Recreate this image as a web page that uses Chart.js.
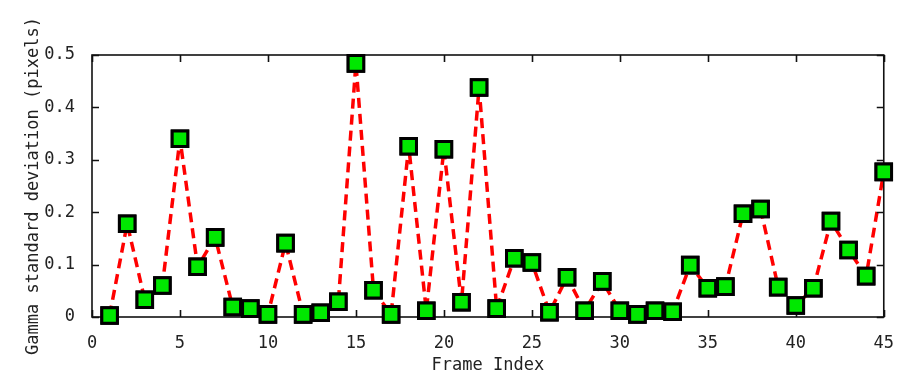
<!DOCTYPE html>
<html lang="en">
<head>
    <meta charset="UTF-8">
    <title>Gamma standard deviation per frame</title>
    <script src="https://cdn.jsdelivr.net/npm/chart.js"></script>
    <style>
        html, body {
            margin: 0;
            padding: 0;
            background: #fff;
        }
        #wrap {
            width: 902px;
            height: 379px;
        }
    </style>
</head>
<body>
    <div id="wrap">
        <canvas id="gammaChart"></canvas>
    </div>

    <script>
        // frame indices and measured gamma std dev (pixels)
        const frames = [];
        for (let i = 1; i <= 45; i++) frames.push(i);

        const gammaStd = [
            0.003, 0.178, 0.033, 0.060, 0.340, 0.096, 0.152, 0.019, 0.016, 0.005,
            0.141, 0.005, 0.008, 0.029, 0.484, 0.051, 0.005, 0.326, 0.012, 0.320,
            0.028, 0.438, 0.016, 0.112, 0.104, 0.009, 0.076, 0.012, 0.068, 0.012,
            0.005, 0.012, 0.010, 0.099, 0.055, 0.058, 0.197, 0.206, 0.057, 0.022,
            0.055, 0.183, 0.128, 0.078, 0.277
        ];

        const xTicks = [0, 5, 10, 15, 20, 25, 30, 35, 40, 45];
        const yTicks = [0, 0.1, 0.2, 0.3, 0.4, 0.5];

        const monoFont = "'DejaVu Sans Mono', 'Liberation Mono', monospace";

        // box around the plot with gnuplot-style inward ticks
        const frameBox = {
            id: 'frameBox',
            afterDatasetsDraw(chart) {
                const { ctx, chartArea: a, scales } = chart;
                const len = 7;
                ctx.save();
                ctx.strokeStyle = '#111';
                ctx.lineWidth = 1.6;
                ctx.beginPath();
                xTicks.forEach(v => {
                    const px = Math.round(scales.x.getPixelForValue(v)) + 0.5;
                    ctx.moveTo(px, a.bottom);
                    ctx.lineTo(px, a.bottom - len);
                    ctx.moveTo(px, a.top);
                    ctx.lineTo(px, a.top + len);
                });
                yTicks.forEach(v => {
                    const py = Math.round(scales.y.getPixelForValue(v)) + 0.5;
                    ctx.moveTo(a.left, py);
                    ctx.lineTo(a.left + len, py);
                    ctx.moveTo(a.right, py);
                    ctx.lineTo(a.right - len, py);
                });
                ctx.stroke();
                ctx.strokeRect(a.left, a.top, a.right - a.left, a.bottom - a.top);
                ctx.restore();
            },
            // redraw markers above the box so edge points sit on top
            afterDraw(chart) {
                const meta = chart.getDatasetMeta(0);
                meta.data.forEach(pt => pt.draw(chart.ctx));
            }
        };

        const ctx = document.getElementById('gammaChart').getContext('2d');
        new Chart(ctx, {
            type: 'line',
            data: {
                datasets: [{
                    data: frames.map((f, i) => ({ x: f, y: gammaStd[i] })),
                    borderColor: '#ff0000',
                    borderWidth: 3.5,
                    borderDash: [10, 6],
                    borderJoinStyle: 'round',
                    tension: 0,
                    fill: false,
                    clip: false,
                    pointStyle: 'rect',
                    pointRadius: 11,
                    pointBackgroundColor: '#00e800',
                    pointBorderColor: '#000',
                    pointBorderWidth: 3
                }]
            },
            options: {
                responsive: true,
                maintainAspectRatio: false,
                animation: false,
                layout: {
                    padding: { top: 55, right: 16, bottom: 0, left: 0 }
                },
                plugins: {
                    legend: { display: false },
                    tooltip: { enabled: false }
                },
                scales: {
                    x: {
                        type: 'linear',
                        min: 0,
                        max: 45,
                        afterFit(scale) { scale.height = 62; },
                        afterBuildTicks(scale) {
                            scale.ticks = xTicks.map(v => ({ value: v }));
                        },
                        grid: { display: false },
                        border: { display: false },
                        ticks: {
                            color: '#222',
                            padding: 8,
                            maxRotation: 0,
                            font: { family: monoFont, size: 17 },
                            callback: v => String(v)
                        },
                        title: {
                            display: true,
                            text: 'Frame Index',
                            color: '#222',
                            padding: { top: 0, bottom: 3 },
                            font: { family: monoFont, size: 17 }
                        }
                    },
                    y: {
                        type: 'linear',
                        min: 0,
                        max: 0.5,
                        afterFit(scale) { scale.width = 92; },
                        afterBuildTicks(scale) {
                            scale.ticks = yTicks.map(v => ({ value: v }));
                        },
                        grid: { display: false },
                        border: { display: false },
                        ticks: {
                            color: '#222',
                            padding: 9,
                            font: { family: monoFont, size: 17 },
                            callback: v => (v === 0 ? '0' : v.toFixed(1))
                        },
                        title: {
                            display: true,
                            text: 'Gamma standard deviation (pixels)',
                            color: '#222',
                            padding: { top: 23, bottom: 0 },
                            font: { family: monoFont, size: 17 }
                        }
                    }
                }
            },
            plugins: [frameBox]
        });
    </script>
</body>
</html>
